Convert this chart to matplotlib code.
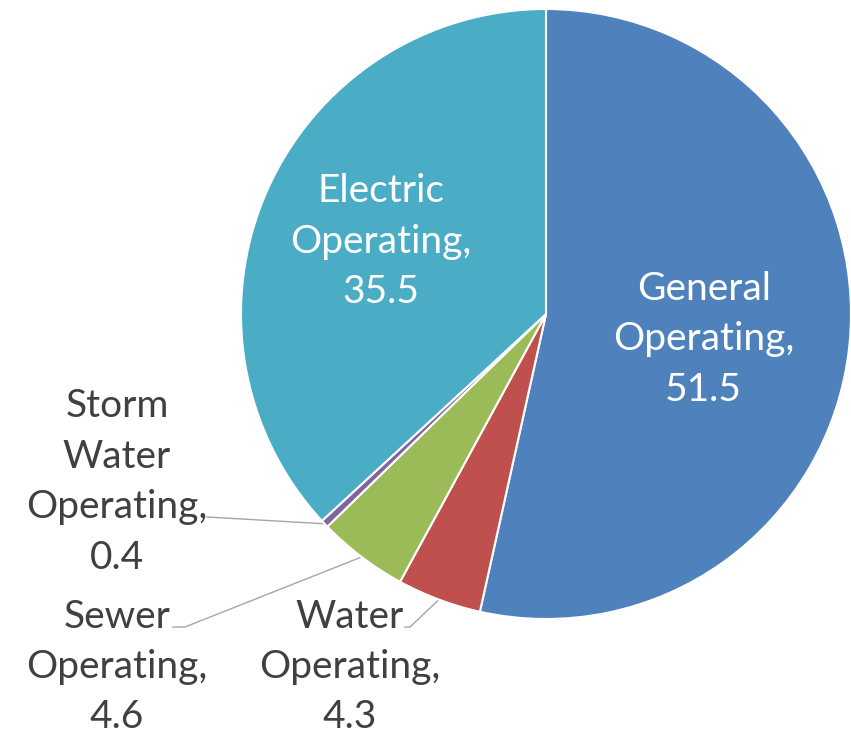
import numpy as np
import matplotlib
matplotlib.use("Agg")
import matplotlib.pyplot as plt

# Operating funds, values as shown in the data labels
names = ["General\nOperating,", "Water\nOperating,", "Sewer\nOperating,",
         "Storm\nWater\nOperating,", "Electric\nOperating,"]
values = [51.5, 4.3, 4.6, 0.4, 35.5]
colors = ["#4F81BD", "#C0504D", "#9BBB59", "#8064A2", "#4BACC6"]

W, H = 851, 734
CX, CY, R = 546, H - 314, 305
FONT = "Lato"
FS = 28
LS = 1.5
TXT = "#404040"
LEADER = "#A6A6A6"

fig = plt.figure(figsize=(W / 100, H / 100), dpi=100)
ax = fig.add_axes([0, 0, 1, 1])

wedges, _ = ax.pie(values, colors=colors, startangle=90, counterclock=False,
                   center=(CX, CY), radius=R,
                   wedgeprops=dict(edgecolor="white", linewidth=1.5))
ax.set_xlim(0, W)
ax.set_ylim(0, H)
ax.set_aspect("equal")
ax.axis("off")


def mid_point(w, frac):
    ang = np.deg2rad((w.theta1 + w.theta2) / 2)
    return CX + frac * R * np.cos(ang), CY + frac * R * np.sin(ang)


def label(i):
    return f"{names[i]}\n{values[i]}"


# inside labels (slice index, radial fraction, vertical nudge in px)
for i, frac, dy in [(0, 0.52, -8), (4, 0.59, 0)]:
    x, y = mid_point(wedges[i], frac)
    ax.text(x, y + dy, label(i), ha="center", va="center", color="white",
            fontsize=FS, family=FONT, linespacing=LS)

# outside labels with leader lines
outside = [
    # index, text centre, leader start
    (3, (117, H - 482), [(207, H - 517)]),
    (2, (117, H - 667), [(173, H - 627), (185, H - 627)]),
    (1, (350, H - 667), [(405, H - 627), (410, H - 627)]),
]
for i, (tx, ty), pts in outside:
    ax.text(tx, ty, label(i), ha="center", va="center", color=TXT,
            fontsize=FS, family=FONT, linespacing=LS)
    ex, ey = mid_point(wedges[i], 1.0)
    xs = [p[0] for p in pts] + [ex]
    ys = [p[1] for p in pts] + [ey]
    ax.plot(xs, ys, color=LEADER, linewidth=1.0, zorder=0.5)

fig.savefig("out.png", dpi=100, facecolor="white")
